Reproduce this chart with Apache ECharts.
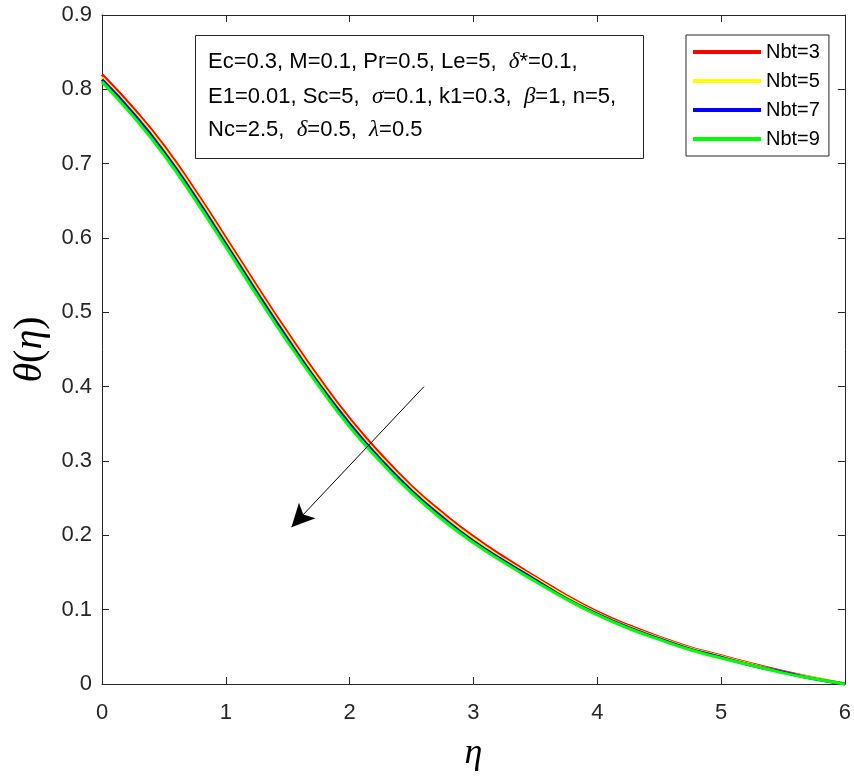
<!DOCTYPE html>
<html>
<head>
<meta charset="utf-8">
<script src="https://cdn.jsdelivr.net/npm/echarts@6/dist/echarts.min.js"></script>
<style>
  html, body { margin: 0; padding: 0; background: #fff; }
  #chart { width: 854px; height: 779px; }
</style>
</head>
<body>
<div id="chart"></div>
<script>
// eta grid and temperature profiles
var eta = [0, 0.25, 0.5, 0.75, 1, 1.25, 1.5, 1.75, 2, 2.25, 2.5, 2.75, 3,
           3.25, 3.5, 3.75, 4, 4.25, 4.5, 4.75, 5, 5.25, 5.5, 5.75, 6];
var thetaNbt3 = [0.820, 0.775, 0.724, 0.664, 0.600, 0.535, 0.472, 0.412, 0.357, 0.309, 0.266, 0.230, 0.198,
                 0.170, 0.144, 0.119, 0.097, 0.079, 0.063, 0.049, 0.038, 0.027, 0.017, 0.008, 0.000];
var thetaNbt5 = [0.816, 0.771, 0.720, 0.660, 0.596, 0.531, 0.468, 0.408, 0.353, 0.305, 0.263, 0.227, 0.195,
                 0.167, 0.142, 0.117, 0.095, 0.077, 0.062, 0.048, 0.037, 0.026, 0.016, 0.008, 0.000];
var thetaNbt7 = [0.813, 0.768, 0.716, 0.656, 0.592, 0.527, 0.464, 0.404, 0.350, 0.302, 0.260, 0.224, 0.192,
                 0.165, 0.140, 0.115, 0.094, 0.076, 0.061, 0.047, 0.036, 0.025, 0.016, 0.007, 0.000];
var thetaNbt9 = [0.810, 0.764, 0.712, 0.652, 0.588, 0.523, 0.460, 0.401, 0.346, 0.299, 0.257, 0.221, 0.190,
                 0.163, 0.138, 0.114, 0.093, 0.075, 0.060, 0.046, 0.035, 0.025, 0.015, 0.007, 0.000];
var seriesNames = ['Nbt=3', 'Nbt=5', 'Nbt=7', 'Nbt=9'];
var seriesColors = ['#ff0000', '#ffff00', '#0000ff', '#00ff00'];
var seriesValues = [thetaNbt3, thetaNbt5, thetaNbt7, thetaNbt9];
// arrow: from (eta, theta) to (eta, theta)
var arrowFrom = [2.6, 0.40];
var arrowTo = [1.53, 0.211];

var axisColor = '#262626';
var chart = echarts.init(document.getElementById('chart'));

function pairs(ys) {
    return eta.map(function (x, i) { return [x, ys[i]]; });
}

var series = seriesValues.map(function (ys, k) {
    return {
        name: seriesNames[k],
        type: 'line',
        data: pairs(ys),
        smooth: 0.5,
        showSymbol: false,
        lineStyle: { color: seriesColors[k], width: 3 },
        itemStyle: { color: seriesColors[k] }
    };
});
// the trend arrow
series[3].markLine = {
    silent: true,
    symbol: ['none', 'arrow'],
    symbolSize: [17, 23],
    label: { show: false },
    lineStyle: { color: '#000', width: 1, type: 'solid' },
    emphasis: { disabled: true },
    data: [[{ coord: arrowFrom }, { coord: arrowTo }]]
};

var greek = { fontFamily: 'Liberation Serif', fontStyle: 'italic', fontSize: 23, fill: '#000' };

function boxAxis(extra) {
    var a = {
        type: 'value',
        axisLine: { show: true, onZero: false, lineStyle: { color: axisColor } },
        axisTick: { show: true, inside: true, length: 7, lineStyle: { color: axisColor } },
        splitLine: { show: false }
    };
    for (var k in extra) a[k] = extra[k];
    return a;
}

option = {
    animation: false,
    backgroundColor: '#fff',
    grid: { left: 102, right: 7, top: 15, bottom: 95 },
    legend: {
        data: seriesNames,
        orient: 'vertical',
        left: 686,
        top: 35,
        padding: [7, 9, 7, 7],
        itemWidth: 68,
        itemHeight: 4,
        itemGap: 9,
        icon: 'rect',
        borderColor: axisColor,
        borderWidth: 1,
        backgroundColor: '#fff',
        textStyle: { fontFamily: 'Liberation Sans', fontSize: 20, color: '#000' }
    },
    xAxis: [boxAxis({
        min: 0, max: 6, interval: 1, position: 'bottom',
        axisLabel: { fontFamily: 'Liberation Sans', fontSize: 22, color: axisColor, margin: 18 },
        name: 'η',
        nameLocation: 'middle',
        nameGap: 52,
        nameTextStyle: { fontFamily: 'Liberation Serif', fontStyle: 'italic', fontSize: 36, color: '#000' }
    }), boxAxis({
        min: 0, max: 6, interval: 1, position: 'top',
        axisLabel: { show: false }
    })],
    yAxis: [boxAxis({
        min: 0, max: 0.9, interval: 0.1, position: 'left',
        axisLabel: { fontFamily: 'Liberation Sans', fontSize: 22, color: axisColor, margin: 10,
                     formatter: function (v) { return v === 0 ? '0' : v.toFixed(1); } },
        name: '{i|θ}{n|(}{i|η}{n|)}',
        nameLocation: 'middle',
        nameGap: 50,
        nameTextStyle: {
            rich: {
                i: { fontFamily: 'Liberation Serif', fontStyle: 'italic', fontSize: 40, color: '#000' },
                n: { fontFamily: 'Liberation Serif', fontSize: 40, color: '#000' }
            }
        }
    }), boxAxis({
        min: 0, max: 0.9, interval: 0.1, position: 'right',
        axisLabel: { show: false }
    })],
    graphic: [{
        type: 'rect',
        left: 195, top: 35,
        shape: { width: 448, height: 123 },
        style: { fill: '#fff', stroke: axisColor, lineWidth: 1 },
        z: 10
    }, {
        type: 'text', left: 208, top: 50, z: 11,
        style: {
            text: 'Ec=0.3, M=0.1, Pr=0.5, Le=5,  {g|δ}*=0.1,',
            font: '22px "Liberation Sans"', fill: '#000',
            rich: { g: greek }
        }
    }, {
        type: 'text', left: 208, top: 85, z: 11,
        style: {
            text: 'E1=0.01, Sc=5,  {g|σ}=0.1, k1=0.3,  {g|β}=1, n=5,',
            font: '22px "Liberation Sans"', fill: '#000',
            rich: { g: greek }
        }
    }, {
        type: 'text', left: 208, top: 118, z: 11,
        style: {
            text: 'Nc=2.5,  {g|δ}=0.5,  {g|λ}=0.5',
            font: '22px "Liberation Sans"', fill: '#000',
            rich: { g: greek }
        }
    }],
    series: series
};

chart.setOption(option);
</script>
</body>
</html>
